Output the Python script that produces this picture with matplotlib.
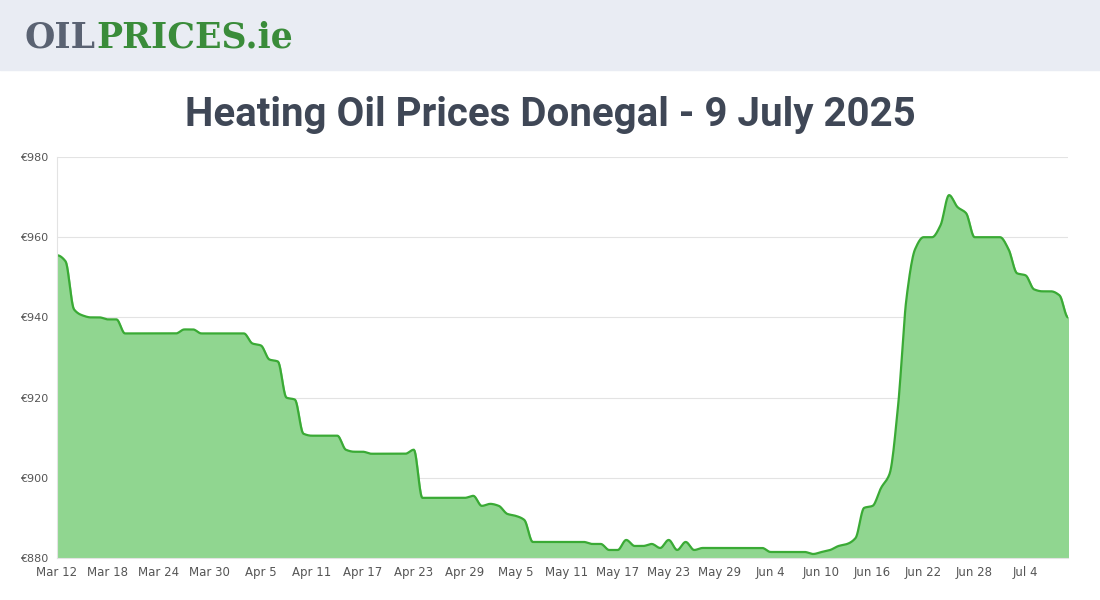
import matplotlib.pyplot as plt
import numpy as np
import datetime as dt

start = dt.date(2025, 3, 12)
prices = [955.5, 954, 942, 940.5, 940, 940, 939.5, 939.5, 936, 936,
          936, 936, 936, 936, 936, 937, 937, 936, 936, 936,
          936, 936, 936, 933.5, 933, 929.5, 929, 920, 919.5, 911,
          910.5, 910.5, 910.5, 910.5, 907, 906.5, 906.5, 906, 906, 906,
          906, 906, 907, 895, 895, 895, 895, 895, 895, 895.5,
          893, 893.5, 893, 891, 890.5, 889.5, 884, 884, 884, 884,
          884, 884, 884, 883.5, 883.5, 882, 882, 884.5, 883, 883,
          883.5, 882.5, 884.5, 882, 884, 882, 882.5, 882.5, 882.5, 882.5,
          882.5, 882.5, 882.5, 882.5, 881.5, 881.5, 881.5, 881.5, 881.5, 881,
          881.5, 882, 883, 883.5, 885, 892.5, 893, 897.5, 901, 918,
          945, 957, 960, 960, 963, 970.5, 967.5, 966, 960, 960,
          960, 960, 957, 951, 950.5, 947, 946.5, 946.5, 945.5, 940]
days = np.arange(len(prices))
tick_days = np.arange(0, len(prices), 6)
tick_labels = [(start + dt.timedelta(days=int(d))).strftime("%b %-d") for d in tick_days]
yticks = [880, 900, 920, 940, 960, 980]

# smooth curve through the daily points (monotone cubic)
y = np.array(prices, dtype=float)
d = np.diff(y)
m = np.zeros_like(y)
for i in range(1, len(y) - 1):
    if d[i - 1] * d[i] > 0:
        m[i] = 2 / (1 / d[i - 1] + 1 / d[i])
xs, ys = [], []
for i in range(len(y) - 1):
    t = np.linspace(0, 1, 12)
    h00 = 2*t**3 - 3*t**2 + 1
    h10 = t**3 - 2*t**2 + t
    h01 = -2*t**3 + 3*t**2
    h11 = t**3 - t**2
    xs.extend(i + t)
    ys.extend(h00*y[i] + h10*m[i] + h01*y[i+1] + h11*m[i+1])

fig = plt.figure(figsize=(11, 6), dpi=100)
fig.patches.append(plt.Rectangle((0, 530/600), 1, 70/600, transform=fig.transFigure,
                                 color="#e9ecf3", zorder=0))
fig.text(0.022, 0.937, "OIL", fontsize=25, fontweight="bold", color="#5a6272",
         va="center", family="DejaVu Serif")
fig.text(0.088, 0.937, "PRICES.ie", fontsize=25, fontweight="bold", color="#3a8c3a",
         va="center", family="DejaVu Serif")
fig.text(0.5, 0.808, "Heating Oil Prices Donegal - 9 July 2025", fontsize=29,
         color="#3f4756", ha="center", va="center", family="Roboto",
         fontweight="bold")

ax = fig.add_axes([57/1100, 42/600, 1011/1100, 401/600])
ax.fill_between(xs, ys, 880, color="#90d690")
ax.plot(xs, ys, color="#3aaa35", lw=1.6)
ax.set_xlim(0, len(prices) - 1)
ax.set_ylim(880, 980)
ax.set_yticks(yticks)
ax.set_yticklabels([f"€{v}" for v in yticks], fontsize=8, color="#555")
ax.set_xticks(tick_days)
ax.set_xticklabels(tick_labels, fontsize=8.5, color="#555")
ax.grid(axis="y", color="#e3e3e3", lw=0.8)
ax.set_axisbelow(True)
ax.tick_params(length=0, pad=6)
for s in ["top", "right"]:
    ax.spines[s].set_visible(False)
ax.spines["left"].set_color("#e3e3e3")
ax.spines["bottom"].set_color("#e3e3e3")
fig.savefig("out.png")
